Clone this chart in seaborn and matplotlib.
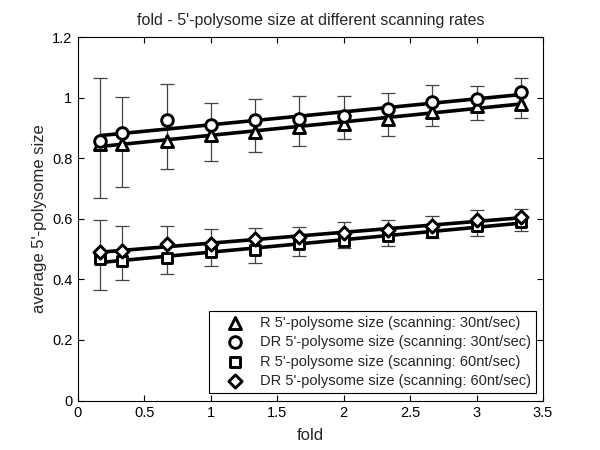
#%% packages
import numpy as np
import pandas as pd
import seaborn as sns
import matplotlib
matplotlib.use("Agg")
import matplotlib.pyplot as plt
from matplotlib.ticker import FuncFormatter

#%% data
fold = [1/6, 1/3, 2/3, 1, 4/3, 5/3, 2, 7/3, 8/3, 3, 10/3]

r_30 = [0.848, 0.849, 0.856, 0.876, 0.887, 0.904, 0.915, 0.931, 0.953, 0.972, 0.981]
dr_30 = [0.859, 0.885, 0.926, 0.912, 0.926, 0.931, 0.940, 0.962, 0.986, 0.997, 1.019]
r_60 = [0.468, 0.461, 0.472, 0.490, 0.496, 0.518, 0.528, 0.545, 0.558, 0.575, 0.590]
dr_60 = [0.490, 0.494, 0.516, 0.518, 0.534, 0.540, 0.552, 0.565, 0.578, 0.596, 0.606]

# error bar ranges (one set per scanning rate)
err30_lo = [0.669, 0.705, 0.764, 0.793, 0.821, 0.841, 0.863, 0.873, 0.906, 0.928, 0.933]
err30_hi = [1.067, 1.003, 1.045, 0.984, 0.997, 1.005, 1.005, 1.016, 1.041, 1.038, 1.067]
err60_lo = [0.366, 0.397, 0.419, 0.443, 0.455, 0.477, 0.505, 0.510, 0.538, 0.545, 0.560]
err60_hi = [0.598, 0.575, 0.578, 0.566, 0.570, 0.572, 0.590, 0.597, 0.609, 0.628, 0.634]

labels = ["R 5'-polysome size (scanning: 30nt/sec)",
          "DR 5'-polysome size (scanning: 30nt/sec)",
          "R 5'-polysome size (scanning: 60nt/sec)",
          "DR 5'-polysome size (scanning: 60nt/sec)"]
markers = ["^", "o", "s", "D"]
series = [r_30, dr_30, r_60, dr_60]

#%% style
sns.set_style("ticks")
plt.rcParams["font.family"] = ["Liberation Sans", "DejaVu Sans"]
plt.rcParams["xtick.direction"] = "in"
plt.rcParams["ytick.direction"] = "in"

fig = plt.figure(figsize=(6, 4.5), dpi=100)
ax = fig.add_axes([0.13, 0.11, 0.775, 0.807])

#%% error bars
for lo, hi in [(err30_lo, err30_hi), (err60_lo, err60_hi)]:
    lo = np.array(lo)
    hi = np.array(hi)
    mid = (lo + hi) / 2
    ax.errorbar(fold, mid, yerr=(hi - lo) / 2, fmt="none", ecolor="#444444",
                elinewidth=0.9, capsize=5, capthick=0.9, zorder=1)

#%% fitted lines + markers
handles = []
for ys, m, lab in zip(series, markers, labels):
    df = pd.DataFrame({"fold": fold, "size": ys})
    sns.regplot(data=df, x="fold", y="size", scatter=False, ci=None, ax=ax,
                line_kws=dict(color="black", lw=2.6, zorder=2))
    msize = {"^": 75, "o": 70, "s": 50, "D": 45}[m]
    h = ax.scatter(fold, ys, marker=m, s=msize, facecolor="white",
                   edgecolor="black", linewidth=2.1, zorder=3, label=lab)
    handles.append(h)

#%% axes
ax.set_xlim(0, 3.5)
ax.set_ylim(0, 1.2)
ax.set_xticks(np.arange(0, 3.51, 0.5))
ax.set_yticks(np.arange(0, 1.21, 0.2))
fmt = FuncFormatter(lambda v, p: f"{v:g}")
ax.xaxis.set_major_formatter(fmt)
ax.yaxis.set_major_formatter(fmt)
ax.tick_params(top=True, right=True, length=4, width=0.8, labelsize=10.5,
               colors="black", pad=4)
for s in ax.spines.values():
    s.set_linewidth(0.8)
    s.set_color("black")

ax.set_xlabel("fold", fontsize=12, labelpad=6)
ax.set_ylabel("average 5'-polysome size", fontsize=12, labelpad=4)
ax.set_title("fold - 5'-polysome size at different scanning rates", fontsize=11.5, pad=9)

leg = ax.legend(handles=handles, loc="lower right", fontsize=10.5, frameon=True,
                fancybox=False, edgecolor="black", framealpha=1, borderpad=0.35,
                labelspacing=0.37, handlelength=2.8, handletextpad=0.3,
                borderaxespad=0.5)
leg.get_frame().set_linewidth(0.8)

fig.savefig("out.png", dpi=100)
